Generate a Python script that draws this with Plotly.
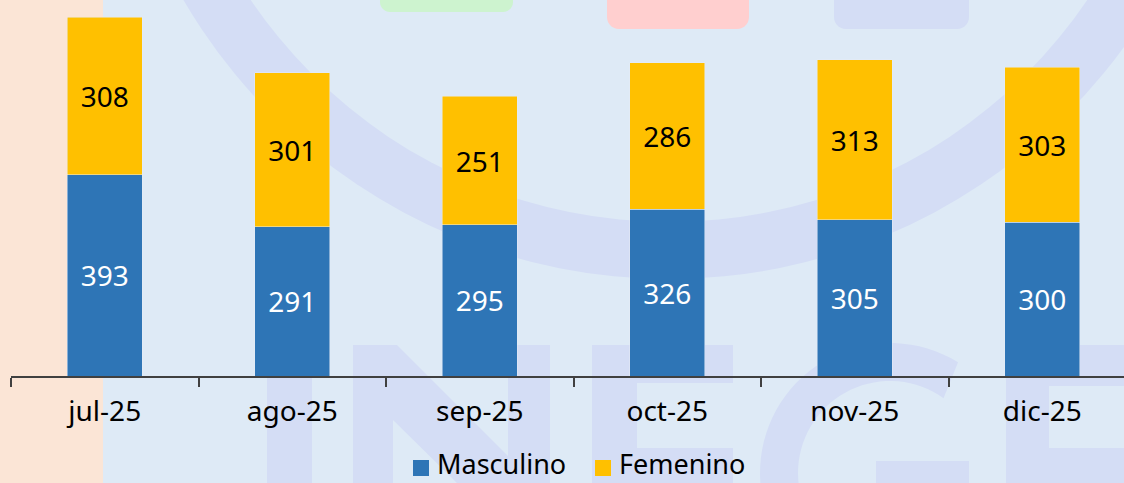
import numpy as np
import plotly.graph_objects as go

categories = ["jul-25", "ago-25", "sep-25", "oct-25", "nov-25", "dic-25"]
masculino = [393, 291, 295, 326, 305, 300]
femenino = [308, 301, 251, 286, 313, 303]
series_names = ["Masculino", "Femenino"]
series_colors = ["#2E75B6", "#FFC000"]

W, H = 1124, 483
L, T, B = 11, 0, 107
PW, PH = W - L, H - T - B

def X(px):
    return (px - L) / PW

def Y(py):
    return (T + PH - py) / PH

BG = "#DEEAF6"
PEACH = "#FBE5D6"
LAV = "#D4DDF5"
FONT = "Noto Sans"

fig = go.Figure()
fig.add_trace(go.Bar(
    x=categories, y=masculino, name=series_names[0], marker_color=series_colors[0],
    text=masculino, textposition="inside", insidetextanchor="middle",
    textfont=dict(color="white", size=28, family=FONT), width=0.4,
    constraintext="none", textangle=0,
))
fig.add_trace(go.Bar(
    x=categories, y=femenino, name=series_names[1], marker_color=series_colors[1],
    text=femenino, textposition="inside", insidetextanchor="middle",
    textfont=dict(color="black", size=28, family=FONT), width=0.4,
    constraintext="none", textangle=0,
))

shapes = []
def rect(x0, y0, x1, y1, color, layer="below"):
    shapes.append(dict(type="rect", xref="paper", yref="paper", x0=X(x0), x1=X(x1),
                       y0=Y(y1), y1=Y(y0), fillcolor=color, line=dict(width=0), layer=layer))

def poly(pts, color):
    d = "M " + " L ".join(f"{X(a):.5f},{Y(b):.5f}" for a, b in pts) + " Z"
    shapes.append(dict(type="path", xref="paper", yref="paper", path=d,
                       fillcolor=color, line=dict(width=0), layer="below"))

def circle(cx, cy, r, color):
    shapes.append(dict(type="circle", xref="paper", yref="paper", x0=X(cx - r), x1=X(cx + r),
                       y0=Y(cy + r), y1=Y(cy - r), fillcolor=color, line=dict(width=0), layer="below"))

def rrect(x0, y0, x1, y1, r, color):
    pts = []
    pts += [(x0, y0), (x1, y0)]
    for a in np.linspace(0, np.pi / 2, 8):
        pts.append((x1 - r + r * np.cos(a), y1 - r + r * np.sin(a)))
    for a in np.linspace(np.pi / 2, np.pi, 8):
        pts.append((x0 + r + r * np.cos(a), y1 - r + r * np.sin(a)))
    poly(pts, color)

# background pieces
rect(0, 0, 103, H, PEACH)
circle(669, -283, 562, LAV)
circle(669, -283, 505, BG)
rrect(380, -20, 513, 12, 10, "#CDF3CF")
rrect(607, -20, 749, 29, 12, "#FFCFCF")
rrect(834, -20, 969, 29, 12, LAV)
# watermark letters
rect(267, 345, 312, H, LAV)
poly([(353, H), (353, 345), (397, 345), (508, 456), (508, 345), (550, 345), (550, H),
      (457, H), (393, 420), (393, H)], LAV)
poly([(592, H), (592, 345), (733, 345), (733, 383), (637, 383), (637, 448), (733, 448), (733, H)], LAV)
g_out = [(890 + 130 * np.cos(a), 473 + 130 * np.sin(a)) for a in np.linspace(-1.02, -np.pi - 0.4, 40)]
g_in = [(890 + 92 * np.cos(a), 473 + 92 * np.sin(a)) for a in np.linspace(-np.pi - 0.4, -0.95, 40)]
poly(g_out + g_in, LAV)
rect(876, 461, 969, H, LAV)
poly([(1006, H), (1006, 345), (1130, 345), (1130, 386), (1049, 386), (1049, 448), (1130, 448), (1130, H)], LAV)

# custom legend (square markers + text)
annotations = []
legend_items = [(413, 436), (595, 618)]
for (mx, tx), name, col in zip(legend_items, series_names, series_colors):
    rect(mx, 460, mx + 16, 476, col, layer="above")
    annotations.append(dict(xref="paper", yref="paper", x=X(tx), y=Y(H), xanchor="left",
                            yanchor="bottom", text=name, showarrow=False, borderpad=0,
                            font=dict(size=27, family=FONT, color="black")))

fig.update_layout(
    width=W, height=H,
    margin=dict(l=L, r=0, t=T, b=B, pad=0),
    paper_bgcolor=BG, plot_bgcolor="rgba(0,0,0,0)",
    barmode="stack",
    shapes=shapes, annotations=annotations,
    font=dict(family=FONT, color="black"),
    showlegend=False,
    xaxis=dict(range=[-0.5, -0.5 + PW / 187.5], showline=True, linecolor="#404040", linewidth=1.5,
               ticks="outside", tickson="boundaries", ticklen=9, tickcolor="#404040", tickwidth=1.5,
               ticklabelstandoff=10,
               tickfont=dict(size=28, family=FONT, color="black"), showgrid=False, fixedrange=True),
    yaxis=dict(range=[0, PH * 701 / 359], visible=False, showgrid=False, zeroline=False),
)

fig.write_html("out.html", config={"displayModeBar": False},
               post_script="document.body.style.margin='0';document.body.style.overflow='hidden';")
